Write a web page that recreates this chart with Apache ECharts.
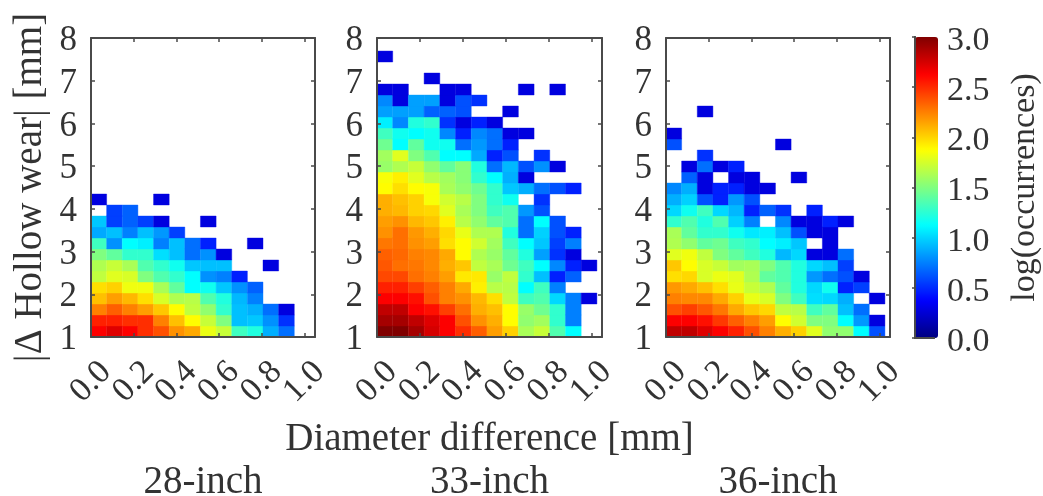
<!DOCTYPE html>
<html>
<head>
<meta charset="utf-8">
<style>html,body{margin:0;padding:0;background:#fff}#c{width:1043px;height:496px}</style>
<script src="https://cdn.jsdelivr.net/npm/echarts@6/dist/echarts.min.js"></script>
</head>
<body>
<div id="c"></div>
<script>
// log(occurrences); outer index = row from the bottom, inner = column from the left
var panel28 = [
 [2.63,2.72,2.63,2.49,2.39,2.2,2.13,1.82,1.71,1.31,1.22,.89,.7],
 [2.53,2.53,2.49,2.49,2.25,2.06,1.88,1.71,1.5,.94,.96,.8,.52],
 [2.25,2.35,2.25,2.16,2.04,1.88,1.69,1.55,1.27,.94,.89,.7,.28],
 [2.06,2.16,2.085,1.97,1.76,1.64,1.665,1.36,1.22,.915,.75],
 [1.97,2.01,1.83,1.83,1.62,1.41,1.125,1.17,.96,.8,.66],
 [1.69,1.785,1.76,1.5,1.36,1.27,1.125,.8,.75,.47],
 [1.64,1.71,1.62,1.36,1.27,1.17,.96,.94,.94,null,null,.28],
 [1.5,1.41,1.27,1.27,1.03,.94,.7,.8,.28],
 [1.31,.8,1.125,1.08,.75,.94,.7,.47,null,null,.28],
 [.87,.94,.75,.94,.82,.56],
 [.96,.56,.66,.56,.28,null,null,.28],
 [null,.56,.66],
 [.28,null,null,null,.28]
];
var panel33 = [
 [3,3,2.89,2.75,2.63,2.49,2.35,2.16,2.01,1.62,1.71,1.36,1.125],
 [2.89,2.89,2.81,2.72,2.63,2.39,2.2,2.11,1.88,1.55,1.6,1.27,.75],
 [2.81,2.81,2.63,2.58,2.44,2.3,2.11,2.06,1.88,1.57,1.45,1.27,.75],
 [2.63,2.63,2.58,2.39,2.25,2.2,2.085,1.97,1.69,1.31,1.36,1.01,.75,.28],
 [2.53,2.53,2.44,2.35,2.25,2.13,1.92,1.665,1.665,1.125,1.31,.75],
 [2.415,2.415,2.3,2.25,2.16,1.94,1.94,1.57,1.69,1.27,.94,.47,.66],
 [2.37,2.3,2.275,2.225,2.11,2.04,1.69,1.62,1.45,1.31,1.125,.775,.47,.28],
 [2.345,2.32,2.25,2.225,2.13,1.88,1.64,1.57,1.41,1.22,.845,.52,.28],
 [2.275,2.3,2.2,2.16,1.97,1.88,1.735,1.6,1.31,1.125,.96,.56,.75],
 [2.2,2.3,2.18,2.11,1.99,1.81,1.64,1.64,1.22,.7,.99,.61,.47],
 [2.16,2.2,2.085,2.04,1.92,1.665,1.55,1.41,1.36,.7,1.125,.61],
 [2.11,2.085,2.01,1.99,1.785,1.62,1.5,1.31,1.36,.82,.61],
 [2.11,2.06,2.01,1.855,1.735,1.665,1.5,1.27,1.17,null,.52],
 [1.88,1.97,1.88,1.855,1.62,1.55,1.45,1.27,.96,.89,.7,.61,.47],
 [1.855,1.92,1.785,1.665,1.6,1.525,1.27,1.125,.89,.28],
 [1.57,1.64,1.71,1.55,1.41,1.525,1.22,.7,.915,.61,.8,.28],
 [1.6,1.785,1.5,1.36,1.125,1.125,.87,.47,.61,null,.52],
 [1.45,1.125,1.41,1.17,1.17,.7,.82,.7,.47],
 [1.31,1.17,1.125,1.17,.775,.47,.775,.7,.28,.28],
 [1.08,.775,1.22,1.27,.52,.28,.47,.28],
 [.845,.845,.845,.66,.66,.61,null,null,.28],
 [.775,.28,.845,.845,.28,.61,.52],
 [.28,.28,null,null,.28,.28,null,null,null,.28,null,.28],
 [null,null,null,.28],
 [],
 [.28]
];
var panel36 = [
 [2.81,2.81,2.72,2.63,2.53,2.39,2.25,2.11,2.01,1.785,1.55,1.55,1.125,.61],
 [2.63,2.63,2.58,2.46,2.345,2.25,2.16,1.88,1.735,1.5,1.5,1.125,.82,.28],
 [2.39,2.44,2.37,2.275,2.13,2.04,1.99,1.69,1.665,1.31,1.41,.94,.7],
 [2.25,2.225,2.225,2.13,2.01,1.81,1.76,1.5,1.31,1.03,1.01,.89,null,.28],
 [2.18,2.13,2.06,1.97,1.81,1.71,1.64,1.41,1.22,1.01,1.17,.47,.56],
 [1.97,1.99,1.76,1.82,1.785,1.64,1.41,1.36,1.22,.82,.7,.61,.28],
 [2.04,1.88,1.76,1.71,1.6,1.62,1.5,1.36,1.22,1.01,.94,.56],
 [1.785,1.83,1.69,1.5,1.41,1.31,1.22,.915,1.01,.28,.28,.7],
 [1.64,1.55,1.41,1.45,1.31,1.27,1.125,1.08,.96,null,.28],
 [1.62,1.41,1.27,1.27,1.17,1.06,1.08,.94,.61,.28,.28],
 [1.27,1.36,1.22,1.36,.99,.75,null,.775,.28,.28,.47,.28],
 [1.01,1.17,1.31,1.01,.915,.47,.66,.52,null,.47],
 [.89,.99,.61,.47,.82,.61],
 [.775,.89,.28,.47,.47,.28,.28],
 [null,.66,.28,null,.28,.28,null,null,.28],
 [null,.28,.7,.28,.47],
 [null,null,.52],
 [.61,null,null,null,null,null,null,.28],
 [.28],
 [],
 [null,null,.28]
];
var panelNames = ['28-inch','33-inch','36-inch'];
var panels = [panel28, panel33, panel36];
var binX = 0.0733, binY = 0.2575;
var jet = ['#000080','#0000ff','#0080ff','#00ffff','#80ff80','#ffff00','#ff8000','#ff0000','#800000'];

var font = '"Liberation Serif","Times New Roman",serif';
var ink = '#333333', line = '#4a4a4a';
var chart = echarts.init(document.getElementById('c'), null, {renderer:'canvas'});

var gridBox = [{left:91,width:224},{left:377,width:225},{left:666,width:224}];
var grids = [], xAxes = [], yAxes = [], series = [];
var lineStyle = {color:line,width:2};
var xLabelBase = {rotate:45,align:'center',verticalAlign:'middle',margin:45,hideOverlap:false,
  fontFamily:font,fontSize:34,color:ink};

panels.forEach(function(p,i){
  grids.push({left:gridBox[i].left,width:gridBox[i].width,top:38,height:299,show:false,z:3});
  var name = i===1 ? 'Diameter difference [mm]' : '';
  [0,1].forEach(function(k){
    xAxes.push({type:'value',gridIndex:i,position:k?'top':'bottom',min:0,max:1.05,interval:0.2,
      splitLine:{show:false},z:5,
      name:k?'':name,nameLocation:'middle',nameGap:83,
      nameTextStyle:{fontFamily:font,fontSize:39,color:ink},
      axisLine:{show:true,onZero:false,lineStyle:lineStyle},
      axisTick:{show:true,inside:true,length:4,lineStyle:{color:line,width:1.5}},
      axisLabel:Object.assign({},xLabelBase,{show:!k,showMinLabel:false,showMaxLabel:false,
        formatter:function(v){return v.toFixed(1);}})
    });
    yAxes.push({type:'value',gridIndex:i,position:k?'right':'left',min:1,max:8,interval:1,
      splitLine:{show:false},z:5,
      name:(!k&&i===0)?'|\u0394 Hollow wear| [mm]':'',nameLocation:'middle',nameGap:41,nameRotate:90,
      nameTextStyle:{fontFamily:font,fontSize:39,color:ink},
      axisLine:{show:true,onZero:false,lineStyle:lineStyle},
      axisTick:{show:true,inside:true,length:4,lineStyle:{color:line,width:1.5}},
      axisLabel:{show:!k,margin:14,verticalAlign:'top',lineHeight:6,fontFamily:font,fontSize:35,color:ink}
    });
  });
  var cells = [];
  p.forEach(function(row,r){
    row.forEach(function(v,c){
      if(v!==null) cells.push([c*binX,1+r*binY,v]);
    });
  });
  series.push({type:'custom',xAxisIndex:i*2,yAxisIndex:i*2,data:cells,silent:true,
    encode:{x:0,y:1},
    renderItem:function(params,api){
      var a=api.coord([api.value(0),api.value(1)]);
      var b=api.coord([api.value(0)+binX,api.value(1)+binY]);
      var col=api.visual('color');
      return {type:'rect',shape:{x:a[0],y:b[1],width:b[0]-a[0],height:a[1]-b[1]},
        style:{fill:col,stroke:col,lineWidth:0.4}};
    }
  });
});

// colour bar frame, ticks and labels
grids.push({left:915,width:23,top:37,height:301,show:false,z:3});
xAxes.push({type:'value',gridIndex:3,min:0,max:1,show:true,position:'top',
  axisLine:{show:true,lineStyle:lineStyle},axisTick:{show:false},axisLabel:{show:false},splitLine:{show:false},z:5});
xAxes.push({type:'value',gridIndex:3,min:0,max:1,show:true,position:'bottom',
  axisLine:{show:true,lineStyle:lineStyle},axisTick:{show:false},axisLabel:{show:false},splitLine:{show:false},z:5});
yAxes.push({type:'value',gridIndex:3,position:'left',min:0,max:3,interval:0.5,
  axisLine:{show:true,lineStyle:lineStyle},axisTick:{show:false},axisLabel:{show:false},splitLine:{show:false},z:5});
yAxes.push({type:'value',gridIndex:3,position:'right',min:0,max:3,interval:0.5,z:5,
  name:'log(occurrences)',nameLocation:'middle',nameGap:74,nameRotate:90,
  nameTextStyle:{fontFamily:font,fontSize:34,color:ink},
  axisLine:{show:true,lineStyle:lineStyle},
  axisTick:{show:true,inside:true,length:3,lineStyle:{color:line,width:1.5}},
  splitLine:{show:false},
  axisLabel:{margin:13,verticalAlign:'top',lineHeight:8,fontFamily:font,fontSize:34,color:ink,formatter:function(v){return v.toFixed(1);}}
});

// overlay grids carry only the 0.0 label, which the main axes would otherwise drop as overlapping
gridBox.forEach(function(b,i){
  grids.push({left:b.left,width:b.width,top:38,height:299,show:false});
  xAxes.push({type:'value',gridIndex:4+i,position:'bottom',min:0,max:1.05,interval:0.2,
    axisLine:{show:false},axisTick:{show:false},splitLine:{show:false},
    axisLabel:Object.assign({},xLabelBase,{showMinLabel:true,showMaxLabel:false,
      formatter:function(v){return v===0?v.toFixed(1):'';}})
  });
  yAxes.push({type:'value',gridIndex:4+i,min:1,max:8,show:false});
});

var titles = panelNames.map(function(n,i){
  return {text:n,left:gridBox[i].left+gridBox[i].width/2,top:463,textAlign:'center',
    textStyle:{fontFamily:font,fontSize:39,fontWeight:'normal',color:ink},padding:0};
});

chart.setOption({
  animation:false,
  backgroundColor:'#fff',
  title:titles,
  grid:grids,
  xAxis:xAxes,
  yAxis:yAxes,
  visualMap:[{type:'continuous',min:0,max:3,dimension:2,seriesIndex:[0,1,2],calculable:false,
    left:915,top:37,itemWidth:23,itemHeight:301,padding:0,text:['',''],showLabel:false,realtime:false,hoverLink:false,z:1,
    inRange:{color:jet}}],
  series:series
});
</script>
</body>
</html>
